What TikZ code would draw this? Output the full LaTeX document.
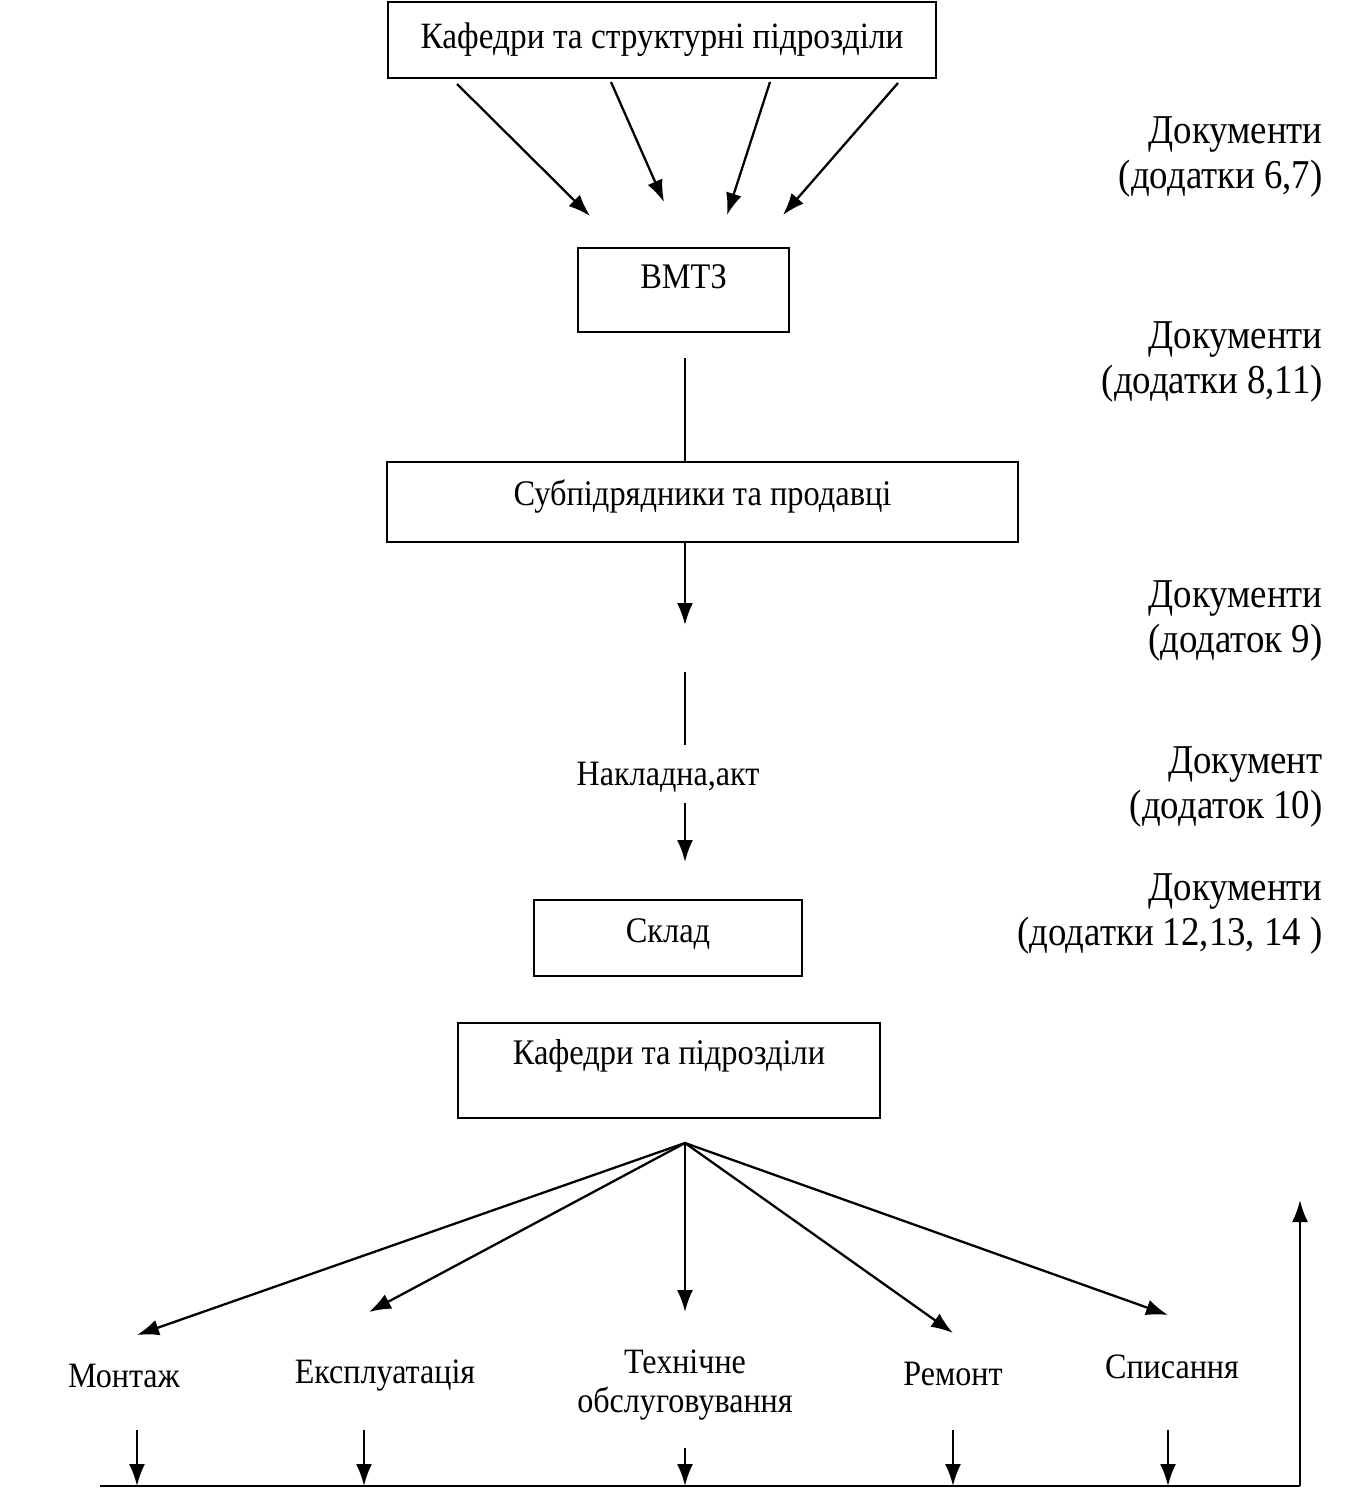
\documentclass[tikz,border=0pt]{standalone}
\usepackage{fontspec}
\setmainfont[FakeStretch=0.9]{Liberation Serif}
\usetikzlibrary{arrows.meta}

\begin{document}
\begin{tikzpicture}[
    x=0.2mm, y=-0.2mm,
    >={Latex[length=4.4mm,width=3.2mm]},
    box/.style={draw, rectangle, line width=1.2pt, inner sep=0pt, anchor=base,
        font=\fontsize{20.5}{24}\selectfont},
    doc/.style={align=right, anchor=base east, inner sep=0pt,
        font=\fontsize{23.3}{25.5}\selectfont},
    stage/.style={align=center, anchor=base, inner sep=0pt,
        font=\fontsize{20.3}{22}\selectfont},
    flow/.style={->, line width=1.3pt},
    link/.style={line width=1.3pt}
]
    \useasboundingbox (0,0) rectangle (1346,1488);

    % Main boxes
    \node[box, font=\fontsize{21.1}{24}\selectfont, minimum width=10.96cm, text height=0.92cm, text depth=0.6cm] (kafstr) at (662,48) {Кафедри та структурні підрозділи};
    \node[box, minimum width=4.22cm, text height=0.8cm, text depth=0.88cm] (vmtz) at (683.5,288) {ВМТЗ};
    \node[box, minimum width=12.62cm, text height=0.86cm, text depth=0.74cm] (subp) at (702.5,505) {Субпідрядники та продавці};
    \node[stage] (nakl) at (668,785) {Накладна,акт};
    \node[box, minimum width=5.36cm, text height=0.84cm, text depth=0.68cm] (sklad) at (668,942) {Склад};
    \node[box, minimum width=8.44cm, text height=0.82cm, text depth=1.08cm] (kafp) at (669,1064) {Кафедри та підрозділи};

    % Documents on the right
    \node[doc] (doc1) at (1323,188) {Документи\\(додатки 6,7)};
    \node[doc] (doc2) at (1323,393) {Документи\\(додатки 8,11)};
    \node[doc] (doc3) at (1323,652) {Документи\\(додаток 9)};
    \node[doc] (doc4) at (1323,818) {Документ\\(додаток 10)};
    \node[doc] (doc5) at (1323,945) {Документи\\(додатки 12,13, 14 )};

    % Arrows from the departments to VMTZ
    \coordinate (a1) at (457,84);  \coordinate (b1) at (590,216);
    \coordinate (a2) at (611,82);  \coordinate (b2) at (664,202);
    \coordinate (a3) at (770,82);  \coordinate (b3) at (727,215);
    \coordinate (a4) at (898,83);  \coordinate (b4) at (783,215);
    \foreach \i in {1,2,3,4} {
        \draw[flow] (a\i) -- (b\i);
    }

    % VMTZ down to the subcontractors
    \coordinate (v1) at (685,358);
    \draw[link] (v1) -- (v1 |- subp.north);
    \coordinate (s2) at (685,625);
    \draw[flow] (s2 |- subp.south) -- (s2);
    \coordinate (n1) at (685,672);
    \coordinate (n2) at (685,745);
    \draw[link] (n1) -- (n2);
    \coordinate (n3) at (685,803);
    \coordinate (n4) at (685,862);
    \draw[flow] (n3) -- (n4);

    % Fan out to the stages
    \coordinate (fan) at (685,1143);
    \node[stage] (mont) at (124,1387) {Монтаж};
    \node[stage] (expl) at (385,1383) {Експлуатація};
    \node[stage] (tech) at (685,1412) {Технічне\\обслуговування};
    \node[stage] (rem) at (953,1385) {Ремонт};
    \node[stage] (spys) at (1172,1378) {Списання};
    \coordinate (m1) at (137,1335);
    \coordinate (e1) at (369,1312);
    \coordinate (t1) at (685,1312);
    \coordinate (r1) at (953,1333);
    \coordinate (c1) at (1168,1315);
    \foreach \p in {m1,e1,t1,r1,c1} {
        \draw[flow] (fan) -- (\p);
    }

    % Bottom line and return arrow
    \coordinate (bl) at (100,1486);
    \coordinate (br) at (1300,1486);
    \coordinate (up) at (1300,1200);
    \draw[line width=1pt] (bl) -- (br);
    \draw[flow] (br) -- (up);
    \foreach \x/\y in {137/1430, 364/1430, 685/1448, 953/1430, 1168/1430} {
        \draw[flow] (\x,\y) -- (\x,1486);
    }

\end{tikzpicture}
\end{document}
